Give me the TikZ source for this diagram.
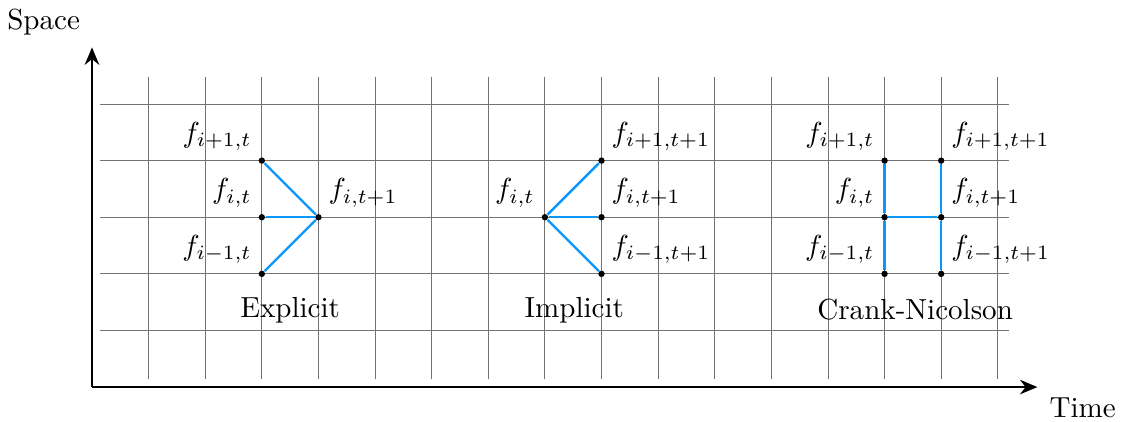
\documentclass[tikz,border=0pt]{standalone}
\usetikzlibrary{arrows.meta}
\definecolor{schemeblue}{RGB}{10,150,250}
\begin{document}
\begin{tikzpicture}[x=0.685cm,y=0.685cm,
  gridline/.style={black!55,line width=0.3pt},
  axis/.style={thick,-{Stealth[length=6pt,width=5pt]}},
  pt/.style={circle,fill=black,inner sep=0pt,minimum size=2.2pt},
  link/.style={schemeblue,line width=0.8pt},
  lbl/.style={inner sep=3.3pt}]
\useasboundingbox (-1.625,-0.601) rectangle (18.30,6.837);
% grid
\draw[gridline,step=1] (0.15,0.15) grid (16.2,5.48);
% axes
\coordinate (O) at (0,0);
\coordinate (Ytip) at (0,6);
\coordinate (Xtip) at (16.7,0);
\draw[axis] (O) -- (Ytip);
\draw[axis] (O) -- (Xtip);
\node[above left,inner sep=2pt] (space) at (-0.1,6.1) {Space};
\node (time) at (17.5,-0.37) {Time};
% Explicit
\node[pt] (e1) at (3,4) {};
\node[pt] (e2) at (3,3) {};
\node[pt] (e3) at (3,2) {};
\node[pt] (e4) at (4,3) {};
\draw[link] (e1) -- (e4);
\draw[link] (e2) -- (e4);
\draw[link] (e3) -- (e4);
\node[lbl,above left] (le1) at (e1.center) {$f_{i+1,t}$};
\node[lbl,above left] (le2) at (e2.center) {$f_{i,t}$};
\node[lbl,above left] (le3) at (e3.center) {$f_{i-1,t}$};
\node[lbl,above right] (le4) at (e4.center) {$f_{i,t+1}$};
\node (explicit) at (3.5,1.36) {Explicit};
% Implicit
\node[pt] (m0) at (8,3) {};
\node[pt] (m1) at (9,4) {};
\node[pt] (m2) at (9,3) {};
\node[pt] (m3) at (9,2) {};
\draw[link] (m0) -- (m1);
\draw[link] (m0) -- (m2);
\draw[link] (m0) -- (m3);
\node[lbl,above left] (lm0) at (m0.center) {$f_{i,t}$};
\node[lbl,above right] (lm1) at (m1.center) {$f_{i+1,t+1}$};
\node[lbl,above right] (lm2) at (m2.center) {$f_{i,t+1}$};
\node[lbl,above right] (lm3) at (m3.center) {$f_{i-1,t+1}$};
\node (implicit) at (8.52,1.36) {Implicit};
% Crank-Nicolson
\node[pt] (c1) at (14,4) {};
\node[pt] (c2) at (14,3) {};
\node[pt] (c3) at (14,2) {};
\node[pt] (d1) at (15,4) {};
\node[pt] (d2) at (15,3) {};
\node[pt] (d3) at (15,2) {};
\draw[link] (c1) -- (c2);
\draw[link] (c2) -- (c3);
\draw[link] (d1) -- (d2);
\draw[link] (d2) -- (d3);
\draw[link] (c2) -- (d2);
\node[lbl,above left] (lc1) at (c1.center) {$f_{i+1,t}$};
\node[lbl,above left] (lc2) at (c2.center) {$f_{i,t}$};
\node[lbl,above left] (lc3) at (c3.center) {$f_{i-1,t}$};
\node[lbl,above right] (ld1) at (d1.center) {$f_{i+1,t+1}$};
\node[lbl,above right] (ld2) at (d2.center) {$f_{i,t+1}$};
\node[lbl,above right] (ld3) at (d3.center) {$f_{i-1,t+1}$};
\node (crank) at (14.54,1.36) {Crank-Nicolson};
\end{tikzpicture}
\end{document}
